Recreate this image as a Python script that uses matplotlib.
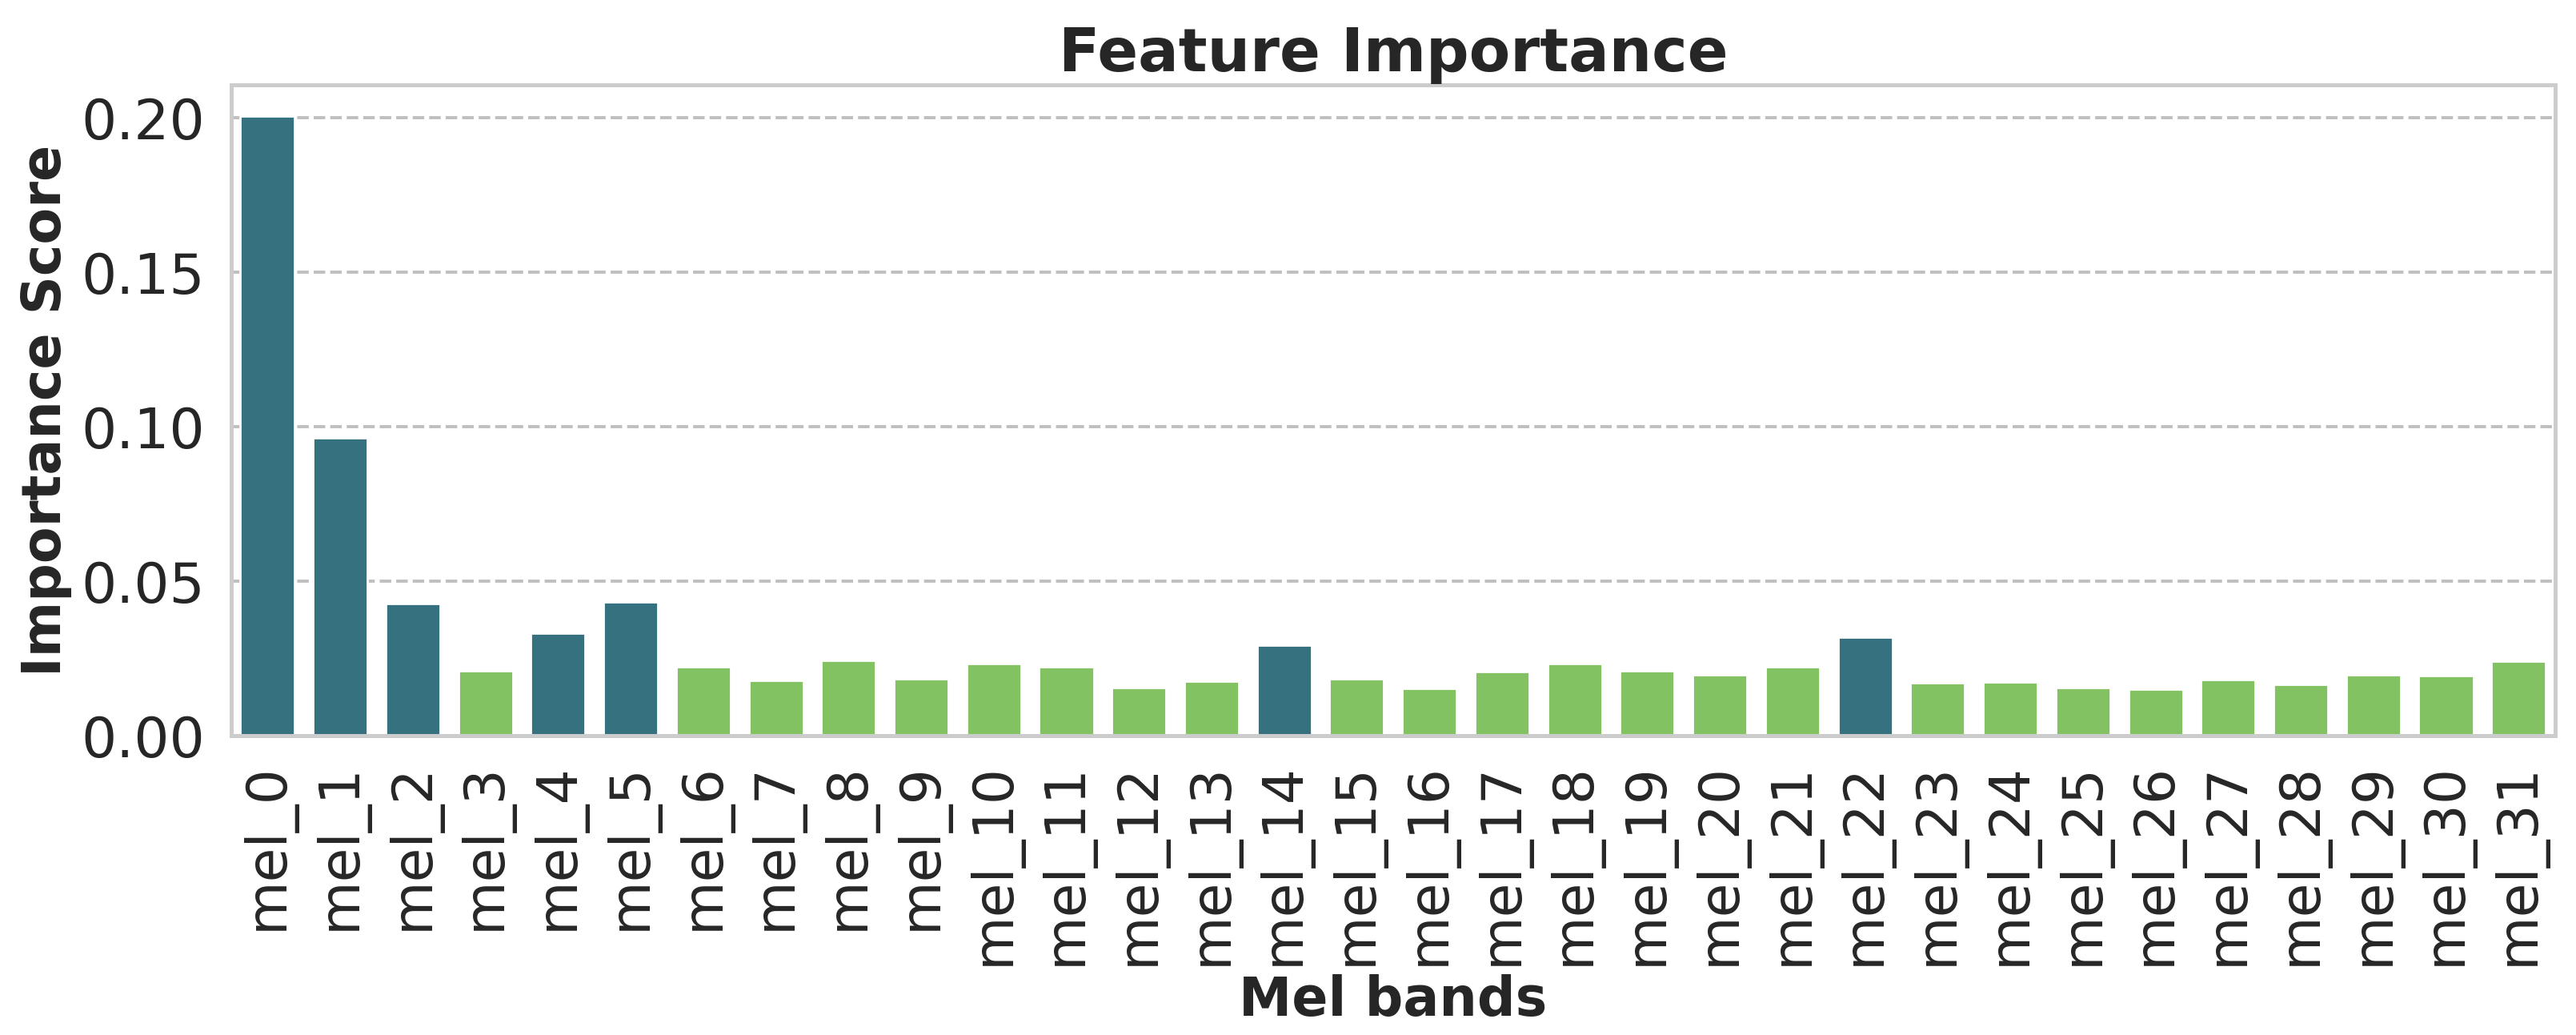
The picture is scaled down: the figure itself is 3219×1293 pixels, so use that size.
import numpy as np
import matplotlib
matplotlib.use('Agg')
import matplotlib.pyplot as plt
import seaborn as sns

# Feature importance per mel band
bands = [f'mel_{i}' for i in range(32)]
importance = [0.2006, 0.0964, 0.0428, 0.0211, 0.0333, 0.0434, 0.0225, 0.0180,
              0.0244, 0.0186, 0.0233, 0.0225, 0.0157, 0.0178, 0.0293, 0.0186,
              0.0154, 0.0209, 0.0235, 0.0212, 0.0199, 0.0225, 0.0319, 0.0173,
              0.0175, 0.0157, 0.0152, 0.0183, 0.0167, 0.0199, 0.0196, 0.0243]
top_n = 7

sns.set_theme(style='whitegrid')
plt.rcParams['font.family'] = ['DejaVu Sans']

teal = '#367180'
green = '#82c262'
cutoff = sorted(importance, reverse=True)[top_n - 1]
colors = [teal if v >= cutoff else green for v in importance]

fig = plt.figure(figsize=(16.095, 6.465), dpi=200)
ax = fig.add_axes([0.0898, 0.2889, 0.902, 0.629])

x = np.arange(len(bands))
ax.bar(x, importance, width=0.75, color=colors, zorder=2)
ax.set_xlim(-0.5, len(bands) - 0.5)
ax.set_xticks(x)
ax.set_xticklabels(bands, rotation=90)
ax.set_yticks([0.0, 0.05, 0.10, 0.15, 0.20])
ax.set_yticklabels(['0.00', '0.05', '0.10', '0.15', '0.20'])
ax.tick_params(axis='both', labelsize=25, colors='#262626', length=0, pad=12)

ax.grid(False)
ax.yaxis.grid(True, linestyle='--', color='#bfbfbf', linewidth=1.4, zorder=0)
for s in ax.spines.values():
    s.set_color('#cccccc')
    s.set_linewidth(1.8)

ax.set_title('Feature Importance', fontsize=27, fontweight='bold', color='#262626')
ax.set_xlabel('Mel bands', fontsize=24, fontweight='bold', color='#262626')
ax.set_ylabel('Importance Score', fontsize=24, fontweight='bold', color='#262626')

fig.savefig('out.png', dpi=200)
